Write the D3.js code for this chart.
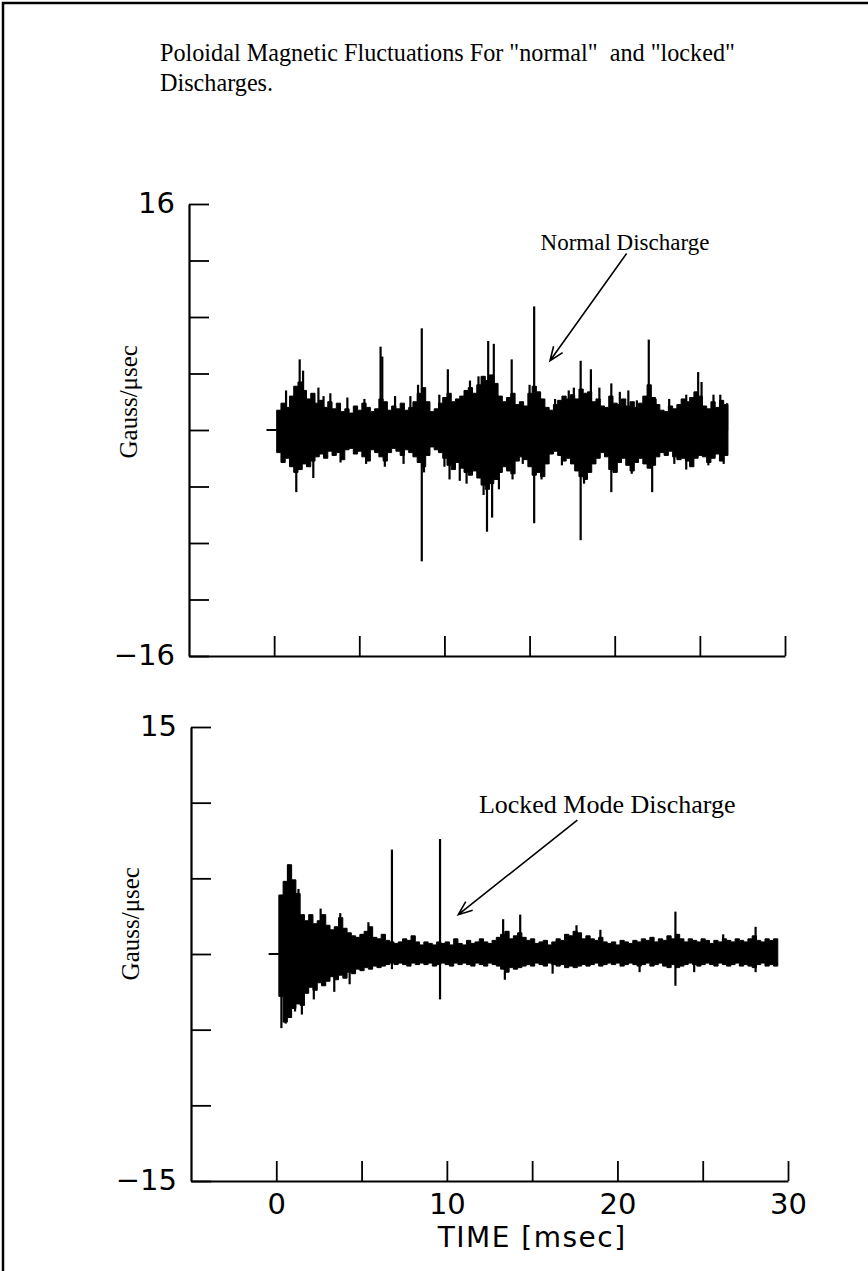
<!DOCTYPE html>
<html>
<head>
<meta charset="utf-8">
<script src="https://cdn.jsdelivr.net/npm/d3@7"></script>
<style>
  html, body { margin: 0; padding: 0; background: #fff; overflow: hidden; }
  svg { display: block; }
  .serif { font-family: "Liberation Serif", "Times New Roman", serif; fill: #000; white-space: pre; }
  .sans { font-family: "DejaVu Sans", sans-serif; fill: #000; }
</style>
</head>
<body>
<svg id="chart" width="868" height="1271"></svg>
<script>
// ---- data -------------------------------------------------------------
const titleLines = ['Poloidal Magnetic Fluctuations For "normal"  and "locked"', 'Discharges.'];
const yUnits = "Gauss/\u03bcsec";
const xTitle = "TIME [msec]";

const timeTicks = [0, 5, 10, 15, 20, 25, 30];
const timeLabels = [0, 10, 20, 30];
const normalYTicks = [-16, -12, -8, -4, 0, 4, 8, 12, 16];
const lockedYTicks = [-15, -10, -5, 0, 5, 10, 15];

// signal is flat before the trigger
const preTrigger = [[-0.45, 0], [0.15, 0]];

// envelope of each 0.25 ms bin (max / min), starting at 0.15 ms
const binStart = 0.15;
const binWidth = 0.25;

const normalHi = [1.4,1.9,1.6,2.4,3.1,3.4,2.8,2.2,2.6,1.9,2.1,1.6,2.0,1.5,1.9,1.3,1.5,1.2,1.7,1.4,
  1.9,1.6,1.3,1.5,2.2,2.0,1.4,1.7,1.5,1.9,1.4,1.6,2.0,2.6,3.0,2.0,1.3,1.5,1.9,2.3,
  2.6,2.0,2.2,2.4,2.8,3.0,2.6,3.2,3.8,3.5,3.9,3.3,2.4,2.0,2.3,2.6,1.8,2.0,1.7,2.6,
  3.1,2.7,2.2,1.6,1.4,1.8,2.1,2.4,2.2,2.5,2.2,2.9,2.6,2.7,2.0,2.2,1.7,1.6,2.4,1.9,
  1.8,2.2,1.7,2.0,1.6,1.9,2.4,3.2,2.3,1.8,1.4,1.3,1.7,1.5,1.8,2.2,2.0,2.3,2.7,2.4,
  1.7,1.5,2.0,1.6,2.1,1.8];
const normalLo = [-1.6,-2.3,-2.0,-2.6,-3.0,-2.8,-2.4,-2.6,-2.2,-1.9,-1.7,-2.0,-1.5,-1.8,-1.6,-2.1,-1.4,-1.3,-1.7,-1.5,
  -1.9,-2.2,-1.4,-1.6,-1.9,-2.2,-1.6,-1.3,-1.5,-1.8,-1.4,-1.6,-1.9,-2.3,-2.6,-1.8,-1.2,-1.4,-1.6,-2.0,
  -2.5,-2.8,-2.3,-2.7,-3.0,-3.2,-2.9,-3.4,-3.9,-4.2,-3.8,-3.5,-3.0,-2.6,-2.9,-3.1,-2.2,-1.9,-2.1,-2.6,
  -3.2,-3.0,-3.3,-2.4,-1.7,-1.5,-1.8,-2.2,-2.0,-2.4,-2.9,-3.3,-3.5,-3.0,-2.4,-2.0,-1.6,-1.9,-2.8,-3.0,
  -2.3,-2.0,-2.5,-2.9,-2.3,-2.0,-2.4,-2.7,-2.5,-1.9,-1.6,-1.8,-1.5,-1.9,-2.1,-2.0,-2.2,-2.6,-2.0,-1.8,
  -1.9,-2.3,-2.0,-1.7,-2.2,-1.8];
// isolated excursions [time ms, value]
const normalSpikes = [[0.7,2.8],[1.3,-4.4],[1.5,5.0],[1.7,4.2],[2.3,-3.4],[2.6,3.0],[2.9,2.4],[3.3,2.6],
  [3.9,-2.3],[4.3,2.3],[5.3,2.2],[5.4,-2.4],[6.25,5.9],[6.35,5.2],[6.5,-2.6],[7.1,2.4],[7.6,-2.4],
  [8.0,2.4],[8.45,3.2],[8.67,7.2],[8.67,-9.3],[8.8,-3.0],[9.7,2.5],[10.0,-2.6],[10.2,4.3],[10.3,-3.5],
  [10.9,-3.6],[11.3,-3.8],[11.5,3.5],[12.0,3.8],[12.3,-4.6],[12.57,6.3],[12.5,-7.2],[12.9,6.1],
  [12.8,-6.2],[13.2,-4.2],[13.95,5.0],[14.0,-3.5],[14.6,-2.4],[15.0,3.2],[15.27,8.75],[15.27,-6.6],
  [15.7,-3.5],[16.5,2.2],[16.9,-2.5],[17.3,2.8],[17.6,3.0],[18.0,4.9],[18.0,-7.8],[18.2,-3.8],
  [18.6,4.3],[19.1,3.0],[19.8,3.3],[19.8,-4.4],[20.3,2.7],[20.8,2.8],[21.0,-3.1],[21.3,2.1],
  [22.0,6.4],[22.2,-4.4],[22.4,2.2],[23.2,2.2],[23.5,-2.4],[24.2,2.5],[24.2,-2.8],[24.9,4.1],
  [25.1,3.4],[25.5,-2.5],[25.8,2.5],[26.2,2.5],[26.4,-2.4],[26.6,1.9]];

const lockedHi = [3.9,4.8,5.9,4.9,4.0,2.6,2.2,2.6,2.0,2.2,2.6,1.9,1.6,1.8,2.4,1.7,1.4,1.2,1.1,1.3,
  1.5,1.8,1.1,1.0,1.3,0.9,0.8,0.7,0.8,1.0,0.9,1.2,0.8,0.6,0.8,0.7,0.6,0.8,0.7,0.8,
  0.6,1.0,0.7,0.6,0.9,0.7,0.8,1.0,0.8,0.7,0.9,1.1,1.3,1.5,1.0,1.2,1.4,1.1,0.9,1.0,
  0.7,0.8,0.9,0.6,0.8,1.0,0.9,1.3,1.2,1.5,1.4,1.0,1.2,1.0,0.9,1.1,0.8,0.7,0.8,0.6,
  0.9,0.8,0.7,0.9,0.8,1.0,0.9,1.1,0.8,1.0,0.9,1.2,1.0,1.3,1.0,0.8,1.0,0.9,0.8,1.0,
  0.9,0.7,0.9,0.8,1.0,0.9,0.8,1.0,0.9,0.8,1.0,1.2,0.9,0.8,1.0,0.9,1.0];
const lockedLo = [-2.8,-4.5,-4.2,-3.6,-3.3,-3.4,-2.6,-2.2,-2.4,-1.9,-2.1,-1.8,-1.5,-1.7,-1.4,-1.6,-1.2,-1.3,-1.0,-1.1,
  -0.9,-1.0,-0.8,-0.9,-0.8,-0.7,-0.6,-0.7,-0.6,-0.7,-0.8,-0.6,-0.7,-0.6,-0.7,-0.6,-0.8,-0.7,-0.6,-0.7,
  -0.8,-0.6,-0.7,-0.6,-0.7,-0.8,-0.6,-0.7,-0.8,-0.6,-0.7,-0.8,-1.0,-1.2,-0.9,-1.0,-0.9,-0.8,-0.7,-0.8,
  -0.6,-0.7,-0.8,-0.6,-0.7,-0.8,-0.7,-0.9,-0.8,-0.9,-0.8,-0.7,-0.8,-0.7,-0.6,-0.8,-0.7,-0.6,-0.7,-0.6,
  -0.8,-0.7,-0.6,-0.7,-0.8,-0.7,-0.6,-0.8,-0.7,-0.6,-0.8,-0.9,-0.7,-0.9,-0.8,-0.7,-0.6,-0.7,-0.8,-0.7,
  -0.6,-0.7,-0.8,-0.6,-0.7,-0.8,-0.7,-0.6,-0.8,-0.7,-0.8,-0.9,-0.7,-0.6,-0.8,-0.7,-0.8];
const lockedSpikes = [[0.3,-4.9],[0.55,-4.6],[0.7,5.9],[0.8,5.6],[1.0,4.6],[1.1,-3.8],[1.3,4.3],
  [1.5,-4.0],[2.0,2.6],[2.2,-3.0],[2.6,3.0],[3.4,-2.5],[3.75,2.7],[4.3,-2.0],[5.4,2.1],
  [6.78,6.9],[6.78,-1.0],[9.6,7.6],[9.6,-3.0],[13.3,2.3],[13.4,-1.7],[14.3,2.6],[16.2,-1.3],
  [17.6,1.9],[19.0,1.6],[21.3,-1.2],[23.4,2.8],[23.4,-2.1],[24.5,-1.2],[26.2,1.3],[28.1,1.8],[28.1,-1.2]];

// ---- drawing ----------------------------------------------------------
const svg = d3.select("#chart");
const W = 868, H = 1271;

svg.append("rect").attr("width", W).attr("height", H).attr("fill", "#fff");

// page frame (top and left rules)
svg.append("path")
  .attr("d", `M3,${H} V3 H${W}`)
  .attr("fill", "none").attr("stroke", "#000").attr("stroke-width", 2.5);

// title
svg.append("g").selectAll("text").data(titleLines).join("text")
  .attr("class", "serif")
  .attr("x", 160)
  .attr("y", (d, i) => 61 + i * 30)
  .attr("font-size", 24.2)
  .text(d => d);

function drawPanel(cfg) {
  const x = d3.scaleLinear().domain([-5, 30]).range([cfg.left, cfg.right]);
  const y = d3.scaleLinear().domain([-cfg.max, cfg.max]).range([cfg.bottom, cfg.top]);
  const g = svg.append("g");

  // y axis with inward ticks, labels at the ends only
  const yAxis = d3.axisLeft(y)
    .tickValues(cfg.yTicks)
    .tickSizeInner(-20).tickSizeOuter(0).tickPadding(14)
    .tickFormat(d => Math.abs(d) === cfg.max ? (d < 0 ? "\u2212" : "") + Math.abs(d) : "");
  const ya = g.append("g").attr("transform", `translate(${cfg.left},0)`).call(yAxis);

  // x axis with inward ticks
  const xAxis = d3.axisBottom(x)
    .tickValues(timeTicks)
    .tickSizeInner(-20).tickSizeOuter(0).tickPadding(12)
    .tickFormat(d => cfg.showTimeLabels && timeLabels.includes(d) ? d : "");
  const xa = g.append("g").attr("transform", `translate(0,${cfg.bottom})`).call(xAxis);

  [ya, xa].forEach(a => {
    a.select(".domain").attr("stroke", "#000").attr("stroke-width", 2.2);
    a.selectAll(".tick line").attr("stroke", "#000").attr("stroke-width", 1.8);
    a.selectAll(".tick text")
      .attr("class", "sans").attr("font-size", 29).attr("fill", "#000");
  });
  ya.selectAll(".tick text").attr("dy", "0.3em");
  xa.selectAll(".tick text").attr("dy", "0.72em");

  // axis title
  g.append("text")
    .attr("class", "serif")
    .attr("font-size", 25)
    .attr("text-anchor", "middle")
    .attr("transform", `translate(${cfg.left - 52},${y(cfg.unitsAt)}) rotate(-90)`)
    .text(yUnits);

  // trace: pre-trigger baseline
  g.append("path")
    .attr("d", d3.line().x(d => x(d[0])).y(d => y(d[1]))(preTrigger))
    .attr("stroke", "#000").attr("stroke-width", 2).attr("fill", "none");

  // trace: envelope of dense oscillation
  const bins = cfg.hi.map((h, i) => ({ t: binStart + i * binWidth, hi: h, lo: cfg.lo[i] }));
  const last = bins[bins.length - 1];
  bins.push({ t: last.t + binWidth, hi: last.hi, lo: last.lo });
  g.append("path")
    .attr("d", d3.area().x(d => x(d.t)).y0(d => y(d.lo)).y1(d => y(d.hi)).curve(d3.curveStepAfter)(bins))
    .attr("fill", "#000").attr("stroke", "#000").attr("stroke-width", 1);

  // trace: isolated spikes
  g.append("g").selectAll("line").data(cfg.spikes).join("line")
    .attr("x1", d => x(d[0])).attr("x2", d => x(d[0]))
    .attr("y1", y(0)).attr("y2", d => y(d[1]))
    .attr("stroke", "#000").attr("stroke-width", 2.2);

  // annotation with arrow
  const a = cfg.note;
  g.append("text")
    .attr("class", "serif").attr("font-size", a.size)
    .attr("text-anchor", "middle")
    .attr("x", x(a.at[0])).attr("y", y(a.at[1]))
    .text(a.text);
  const x0 = x(a.from[0]), y0 = y(a.from[1]), x1 = x(a.to[0]), y1 = y(a.to[1]);
  const ang = Math.atan2(y0 - y1, x0 - x1);
  const head = 15, spread = 0.38;
  g.append("path")
    .attr("d", `M${x0},${y0} L${x1},${y1}` +
      ` M${x1 + head * Math.cos(ang + spread)},${y1 + head * Math.sin(ang + spread)} L${x1},${y1}` +
      ` L${x1 + head * Math.cos(ang - spread)},${y1 + head * Math.sin(ang - spread)}`)
    .attr("fill", "none").attr("stroke", "#000").attr("stroke-width", 1.6);

  return { x, y };
}

drawPanel({
  left: 189, right: 785, top: 204, bottom: 656, max: 16,
  yTicks: normalYTicks, showTimeLabels: false, unitsAt: 2.0,
  hi: normalHi, lo: normalLo, spikes: normalSpikes,
  note: { text: "Normal Discharge", size: 23, at: [20.6, 12.75], from: [20.7, 12.5], to: [16.2, 4.9] }
});

const locked = drawPanel({
  left: 191, right: 788, top: 727, bottom: 1181, max: 15,
  yTicks: lockedYTicks, showTimeLabels: true, unitsAt: 2.0,
  hi: lockedHi, lo: lockedLo, spikes: lockedSpikes,
  note: { text: "Locked Mode Discharge", size: 26, at: [19.4, 9.3], from: [17.65, 8.85], to: [10.67, 2.6] }
});

// time axis title, centred on the recorded interval
svg.append("text")
  .attr("class", "sans")
  .attr("font-size", 28)
  .attr("letter-spacing", 1.5)
  .attr("text-anchor", "middle")
  .attr("x", locked.x(15)).attr("y", 1247)
  .text(xTitle);
</script>
</body>
</html>
